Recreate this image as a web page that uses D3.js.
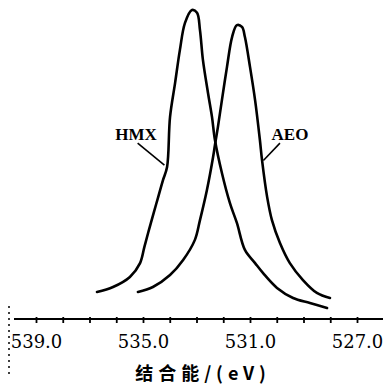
<!DOCTYPE html>
<html>
<head>
<meta charset="utf-8">
<script src="https://cdn.jsdelivr.net/npm/d3@7"></script>
<style>
  body { margin: 0; background: #fff; }
  svg { display: block; }
</style>
</head>
<body>
<svg id="chart" width="383" height="386"></svg>
<script>
// binding energy (eV) and relative intensity
var hmxEnergy = [536.72, 536.12, 535.49, 535.11, 534.95, 534.78, 534.60, 534.43, 534.25, 534.10,
                 533.99, 533.80, 533.62, 533.43, 533.17, 532.98, 532.87, 532.76, 532.57, 532.42,
                 532.31, 532.05, 531.75, 531.49, 531.19, 530.81, 530.51, 529.99, 529.39, 528.76, 528.12];
var hmxIntensity = [8.6, 10.2, 13.4, 17.8, 22.9, 28.3, 33.8, 38.9, 44.3, 48.4,
                    64.3, 75.2, 85.7, 94.3, 98.4, 97.5, 92.0, 82.5, 72.0, 64.3,
                    57.0, 46.5, 36.9, 30.6, 22.0, 17.8, 14.6, 9.9, 6.7, 5.1, 3.5];

var aeoEnergy = [535.19, 534.63, 533.99, 533.50, 533.06, 532.87, 532.61, 532.38, 532.31, 532.20,
                 532.05, 531.86, 531.67, 531.49, 531.30, 531.19, 531.00, 530.81, 530.63, 530.55,
                 530.36, 530.18, 529.88, 529.51, 529.02, 528.50, 528.01];
var aeoIntensity = [8.6, 10.2, 14.0, 18.8, 25.2, 31.5, 41.1, 51.6, 55.4, 61.1,
                    69.7, 80.3, 89.8, 93.6, 93.0, 89.8, 80.3, 69.7, 57.0, 50.6,
                    38.9, 31.5, 24.2, 17.8, 12.4, 8.3, 6.7];

var tickLabels = [539, 535, 531, 527];
var minorTicks = d3.range(527, 540, 1);

var svg = d3.select("#chart");

var x = d3.scaleLinear().domain([539, 527]).range([36, 357]);
var y = d3.scaleLinear().domain([0, 100]).range([319, 5]);

//axis line runs past the last tick, to the page edge
svg.append("line")
    .attr("x1", 14).attr("x2", 383)
    .attr("y1", y(0)).attr("y2", y(0))
    .attr("stroke", "#000").attr("stroke-width", 2.2);

var axisMinor = d3.axisBottom(x).tickValues(minorTicks).tickSize(4).tickFormat("");
svg.append("g")
    .attr("transform", "translate(0," + y(0) + ")")
    .call(axisMinor)
    .call(function (g) { g.select(".domain").remove(); })
    .selectAll("line").attr("stroke-width", 1.8).attr("y1", -2);

var axisMajor = d3.axisBottom(x).tickValues(tickLabels).tickSize(0).tickPadding(16)
    .tickFormat(d3.format(".1f"));
svg.append("g")
    .attr("transform", "translate(0," + y(0) + ")")
    .call(axisMajor)
    .call(function (g) { g.select(".domain").remove(); })
    .selectAll("text")
    .attr("font-family", "'DejaVu Serif', serif")
    .attr("font-size", 18)
    .attr("fill", "#000");

svg.append("text")
    .attr("x", 203).attr("y", 380)
    .attr("text-anchor", "middle")
    .attr("font-family", "'Noto Sans CJK SC', sans-serif")
    .attr("font-weight", 700)
    .attr("font-size", 18)
    .attr("letter-spacing", 5)
    .text("结合能/(eV)");

//scan speckle on the left edge
svg.append("line")
    .attr("x1", 9).attr("x2", 9).attr("y1", 306).attr("y2", 378)
    .attr("stroke", "#000").attr("stroke-width", 1.5)
    .attr("stroke-dasharray", "2,4");

var line = d3.line()
    .x(function (d) { return x(d[0]); })
    .y(function (d) { return y(d[1]); })
    .curve(d3.curveCatmullRom.alpha(0.5));

function drawCurve(energy, intensity) {
    var pts = energy.map(function (e, i) { return [e, intensity[i]]; });
    svg.append("path")
        .datum(pts)
        .attr("d", line)
        .attr("fill", "none")
        .attr("stroke", "#000")
        .attr("stroke-width", 2.6)
        .attr("stroke-linecap", "round");
}
drawCurve(hmxEnergy, hmxIntensity);
drawCurve(aeoEnergy, aeoIntensity);

// labels with pointer lines
var labelFont = "'Liberation Serif', 'DejaVu Serif', serif";
svg.append("text")
    .attr("x", 136).attr("y", 140)
    .attr("text-anchor", "middle")
    .attr("font-family", labelFont).attr("font-weight", "bold").attr("font-size", 17)
    .text("HMX");
svg.append("line")
    .attr("x1", x(535.2)).attr("y1", y(56)).attr("x2", x(534.2)).attr("y2", y(49))
    .attr("stroke", "#000").attr("stroke-width", 1.6);

svg.append("text")
    .attr("x", 290).attr("y", 140)
    .attr("text-anchor", "middle")
    .attr("font-family", labelFont).attr("font-weight", "bold").attr("font-size", 17)
    .text("AEO");
svg.append("line")
    .attr("x1", x(529.88)).attr("y1", y(56)).attr("x2", x(530.5)).attr("y2", y(50.5))
    .attr("stroke", "#000").attr("stroke-width", 1.6);
</script>
</body>
</html>
